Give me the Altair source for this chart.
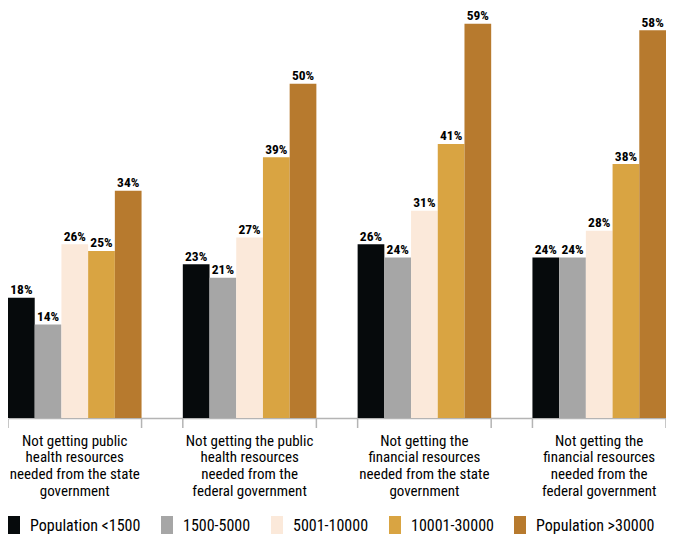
import altair as alt
import pandas as pd

FONT = "Roboto Condensed, Liberation Sans Narrow, DejaVu Sans Condensed, sans-serif"

categories = [
    "Not getting public|health resources|needed from the state|government",
    "Not getting the public|health resources|needed from the|federal government",
    "Not getting the|financial resources|needed from the state|government",
    "Not getting the|financial resources|needed from the|federal government",
]
series = ["Population <1500", "1500-5000", "5001-10000", "10001-30000", "Population >30000"]
pop_lt_1500 = [18, 23, 26, 24]
pop_1500_5000 = [14, 21, 24, 24]
pop_5001_10000 = [26, 27, 31, 28]
pop_10001_30000 = [25, 39, 41, 38]
pop_gt_30000 = [34, 50, 59, 58]
colors = ["#060a0c", "#a6a6a6", "#fbe9da", "#d9a442", "#b77a2e"]

series_values = [pop_lt_1500, pop_1500_5000, pop_5001_10000, pop_10001_30000, pop_gt_30000]
rows = []
for s, vals in zip(series, series_values):
    for c, v in zip(categories, vals):
        rows.append({"category": c, "series": s, "value": v})
df = pd.DataFrame(rows)
cat_df = pd.DataFrame({"category": categories})

W, H = 658, 401

x_enc = alt.X(
    "category:N",
    sort=categories,
    scale=alt.Scale(paddingInner=0.236, paddingOuter=0),
    axis=alt.Axis(
        title=None,
        labelExpr="split(datum.label, '|')",
        labelAngle=0,
        labelAlign="center",
        labelBaseline="top",
        labelFont=FONT,
        labelFontSize=15,
        labelLineHeight=16.8,
        labelColor="black",
        labelPadding=15,
        ticks=False,
        domainColor="#b4b4b4",
        domainWidth=1.5,
    ),
)
xoff = alt.XOffset("series:N", sort=series)
y_enc = alt.Y("value:Q", scale=alt.Scale(domain=[0, 60], nice=False), axis=None)

bars = alt.Chart(df).mark_bar().encode(
    x=x_enc,
    xOffset=xoff,
    y=y_enc,
    color=alt.Color(
        "series:N",
        sort=series,
        scale=alt.Scale(domain=series, range=colors),
        legend=alt.Legend(
            title=None,
            orient="none",
            legendX=0,
            legendY=501,
            direction="horizontal",
            columns=5,
            symbolType="M-1,-1.25L0.5,-1.25L0.5,1.25L-1,1.25Z",
            symbolSize=256,
            symbolStrokeWidth=0,
            symbolOpacity=1,
            labelFont=FONT,
            labelFontSize=16,
            labelColor="black",
            labelOffset=6,
            columnPadding=20,
            padding=0,
        ),
    ),
)

labels = alt.Chart(df).transform_calculate(
    label="datum.value + '%'"
).mark_text(
    baseline="bottom", dy=-0.5, font=FONT, fontWeight="bold", fontSize=13.5, color="black"
).encode(
    x=alt.X("category:N", sort=categories),
    xOffset=xoff,
    y=y_enc,
    text="label:N",
)

tick_l = alt.Chart(cat_df).mark_rule(color="#b4b4b4", strokeWidth=1.5).encode(
    x=alt.X("category:N", sort=categories, bandPosition=0),
    y=alt.value(H + 1),
    y2=alt.value(H + 10),
)
tick_r = alt.Chart(cat_df).mark_rule(color="#b4b4b4", strokeWidth=1.5).encode(
    x=alt.X("category:N", sort=categories, bandPosition=1),
    y=alt.value(H + 1),
    y2=alt.value(H + 10),
)

chart = alt.layer(bars, labels, tick_l, tick_r).properties(
    width=W,
    height=H,
    autosize=alt.AutoSizeParams(type="none"),
    padding={"left": 0, "top": 9, "right": 0, "bottom": 116},
).configure_view(stroke=None)

chart.save("out.html", embed_options={"renderer": "svg", "actions": False})
